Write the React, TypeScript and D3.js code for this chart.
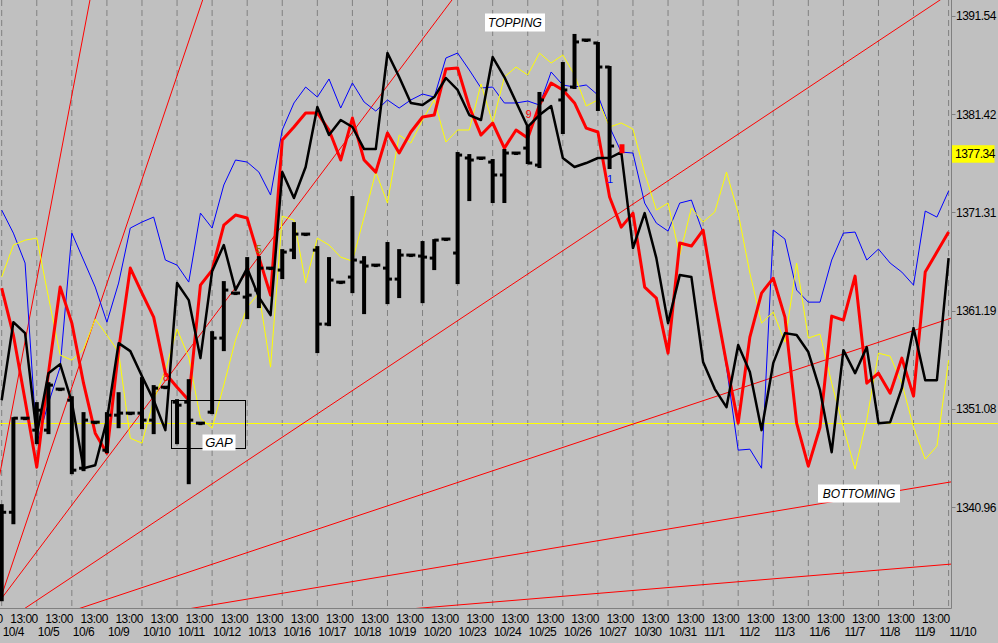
import React from "react";
import * as d3 from "d3";

// ---- data ----
const dates = ["10/4","10/5","10/6","10/9","10/10","10/11","10/12","10/13","10/16","10/17","10/18","10/19","10/20","10/23","10/24","10/25","10/26","10/27","10/30","10/31","11/1","11/2","11/3","11/6","11/7","11/8","11/9","11/10"];
const timeLabel = "13:00";
const yTicks = [1391.54, 1381.42, 1371.31, 1361.19, 1351.08, 1340.96];
const lastPrice = 1377.34;
const refLevel = 1349.59;

const blueLine = [
  1371.54,1369.17,1366.09,1347.56,1351.68,1355.38,1369.17,1366.40,1363.62,1360.01,
  1364.03,1369.69,1370.31,1370.82,1366.40,1365.88,1364.13,1371.23,1369.69,1374.12,
  1376.69,1376.48,1375.45,1373.09,1379.78,1382.56,1384.20,1383.17,1385.03,1382.04,
  1384.62,1382.66,1381.73,1382.87,1382.04,1382.87,1383.48,1383.17,1387.19,1387.70,
  1385.95,1384.10,1384.20,1382.56,1382.56,1382.76,1382.35,1385.75,1384.41,1384.20,
  1384.41,1383.38,1380.09,1377.51,1377.41,1372.26,1370.20,1369.38,1372.26,1372.57,
  1369.17,1362.48,1355.38,1346.84,1346.94,1344.98,1369.48,1368.56,1363.31,1362.07,
  1362.07,1366.40,1369.17,1369.28,1366.40,1367.53,1366.09,1365.16,1363.82,1371.44,
  1370.82,1373.50
];
const redLine = [
  1363.51,1358.68,1351.98,1345.09,1354.76,1363.62,1359.91,1353.73,1348.59,1346.53,
  1357.13,1365.57,1363.00,1360.53,1354.76,1353.32,1351.98,1363.82,1365.37,1370.00,
  1371.03,1370.72,1366.70,1362.79,1378.75,1380.09,1381.53,1381.53,1379.78,1376.69,
  1381.01,1376.69,1375.45,1379.47,1377.41,1379.57,1381.12,1381.32,1386.06,1386.16,
  1382.15,1379.26,1380.50,1377.92,1379.78,1378.95,1382.35,1384.62,1383.90,1382.56,
  1379.98,1379.57,1372.88,1369.79,1371.23,1363.62,1362.48,1356.82,1368.15,1367.84,
  1369.48,1362.28,1355.79,1349.62,1358.47,1363.00,1364.54,1360.53,1349.62,1345.19,
  1349.20,1360.63,1360.22,1364.75,1353.73,1354.76,1352.70,1356.31,1352.40,1365.16,
  1367.22,1369.28
];
const blackLine = [
  1351.98,1360.01,1358.88,1348.38,1354.76,1355.69,1351.78,1344.98,1345.29,1349.93,
  1357.85,1357.03,1354.45,1351.98,1348.90,1364.03,1362.28,1356.31,1365.26,1367.94,
  1363.31,1365.57,1362.59,1360.73,1375.45,1372.78,1375.97,1382.15,1379.26,1380.81,
  1380.09,1377.82,1377.82,1387.70,1385.23,1382.56,1382.35,1383.17,1385.13,1383.90,
  1381.32,1380.81,1387.29,1385.23,1382.66,1380.09,1381.32,1382.25,1376.90,1375.97,
  1376.38,1376.90,1376.90,1377.51,1367.63,1371.23,1366.60,1359.91,1364.85,1364.65,
  1355.90,1353.12,1351.26,1357.65,1354.87,1348.90,1355.79,1358.88,1358.68,1356.93,
  1353.01,1346.63,1357.13,1354.76,1357.44,1349.62,1349.72,1353.22,1359.40,1354.04,
  1354.04,1366.60
];
const yellowLine = [
  1364.65,1367.94,1368.45,1368.66,1362.59,1356.62,1356.10,1357.23,1360.32,1358.68,
  1356.93,1348.07,1347.56,1351.98,1355.07,1359.29,1356.41,1350.13,1349.10,1353.53,
  1358.16,1361.56,1363.00,1355.38,1370.92,1370.51,1364.03,1368.66,1367.94,1366.70,
  1366.29,1370.82,1375.45,1372.26,1379.26,1378.44,1380.81,1382.87,1378.54,1379.78,
  1379.78,1384.51,1380.50,1385.23,1386.26,1385.44,1387.70,1386.67,1387.50,1385.44,
  1382.25,1382.87,1380.09,1380.50,1379.88,1375.35,1371.54,1372.26,1366.91,1371.75,
  1370.31,1371.34,1375.45,1371.23,1365.06,1359.91,1361.04,1357.95,1366.09,1358.37,
  1358.78,1353.73,1349.20,1344.88,1349.93,1356.82,1356.51,1353.73,1349.20,1345.91,
  1347.25,1356.10
];

const barSlot = [
  0,1,2,3,4,5,6,7,8,9,10,11,12,13,14,15,16,17,18,19,20,21,22,23,24,25,26,27,28,29,
  30,31,32,33,34,35,36,37,38,39,40,41,42,43,44,45,46,48,49,50,51,52
];
const barOpen = [
  1335.51,1340.45,1350.13,1348.90,1348.90,1353.12,1351.98,1344.98,1349.72,1346.84,
  1350.44,1350.65,1350.65,1349.93,1353.32,1351.78,1351.78,1349.62,1350.75,1358.37,
  1363.00,1362.59,1363.31,1365.57,1365.37,1367.42,1369.07,1367.42,1359.81,1364.13,
  1364.65,1366.19,1365.88,1365.57,1364.44,1366.91,1366.81,1366.60,1368.56,1367.12,
  1376.90,1376.90,1376.48,1375.15,1377.41,1377.92,1376.17,
  1382.87,1384.20,1389.04,1388.73,1386.26
];
const barHigh = [
  1341.18,1350.13,1350.13,1351.68,1353.73,1353.12,1352.29,1350.65,1349.72,1350.65,
  1352.70,1350.65,1354.25,1353.43,1353.32,1351.98,1354.04,1349.62,1358.98,1364.13,
  1363.00,1366.60,1366.70,1365.57,1367.42,1370.20,1369.07,1367.73,1366.60,1364.13,
  1372.88,1366.70,1365.88,1368.15,1367.42,1366.91,1368.25,1368.45,1368.56,1377.41,
  1377.20,1376.90,1376.69,1377.72,1377.41,1380.09,1383.59,
  1386.67,1389.56,1389.04,1388.73,1386.26
];
const barLow = [
  1331.40,1339.32,1350.13,1347.56,1348.59,1353.12,1344.47,1344.78,1349.72,1346.63,
  1349.20,1350.65,1349.10,1348.59,1353.32,1347.56,1343.44,1349.62,1350.65,1357.13,
  1363.00,1360.42,1361.56,1365.57,1364.54,1366.60,1369.07,1356.93,1359.70,1364.13,
  1363.10,1360.94,1365.88,1361.97,1362.59,1366.91,1362.07,1365.47,1368.56,1364.03,
  1372.57,1376.90,1372.37,1372.37,1377.41,1376.38,1375.97,
  1379.47,1384.10,1389.04,1381.84,1375.87
];
const barClose = [
  1340.45,1350.13,1350.13,1350.95,1353.53,1353.12,1344.78,1349.93,1349.72,1350.44,
  1350.65,1350.65,1349.93,1353.22,1353.32,1351.47,1349.93,1349.62,1358.37,1363.31,
  1363.00,1362.79,1365.57,1365.57,1367.22,1369.07,1369.07,1359.81,1364.34,1364.13,
  1366.40,1365.78,1365.88,1364.44,1366.91,1366.91,1366.70,1368.45,1368.56,1377.20,
  1376.69,1376.90,1375.15,1377.41,1377.41,1376.38,1382.87,
  1383.90,1388.84,1389.04,1386.26,1378.13
];

// fan / trend lines: two anchor points each (slot, price)
const fanS1 = [-0.145, -0.145, 0, 1.99, 6.95, 16.79, 36.64];
const fanP1 = [1344.47, 1331.40, 1331.60, 1330.57, 1330.67, 1330.67, 1330.67];
const fanS2 = [7.55, 17.19, 38.52, 80.27, 80.95, 81.04, 81.04];
const fanP2 = [1393.16, 1393.16, 1393.16, 1393.16, 1360.32, 1343.54, 1335.10];

const markText = ["5", "9", "1", "8"];
const markSlot = [22.0, 45.06, 52.04, 14.05];
const markPrice = [1367.15, 1380.98, 1374.35, 1353.94];
const markColor = ["#808000", "#ff0000", "#0000ff", "#ff0000"];
const squareSlot = 53.06;
const squarePrice = 1377.85;

// ---- layout ----
const W = 998, H = 643;
const plotRight = 951.5, plotBottom = 608.5;
const FONT = "'Liberation Sans', Arial, sans-serif";

export default function App() {
  const x = d3.scaleLinear().domain([0, 81]).range([1.7, 948.6]);
  const y = d3.scaleLinear().domain([1340.96, 1391.54]).range([507.3, 15.7]);

  const line = d3.line<number>().x((_, i) => x(i)).y((d) => y(d));

  const gridSlots = d3.range(0, 82, 3);

  const fanPaths = fanS1.map((s1, i) => {
    const m = (fanP2[i] - fanP1[i]) / (fanS2[i] - s1);
    const a = -8, b = 84;
    return d3.line<[number, number]>().x((d) => x(d[0])).y((d) => y(d[1]))([
      [a, fanP1[i] + m * (a - s1)],
      [b, fanP1[i] + m * (b - s1)],
    ]) as string;
  });

  const txt = { fontFamily: FONT, fontSize: 12, letterSpacing: -0.5 } as const;

  return (
    <svg width={W} height={H} style={{ position: "absolute", left: 0, top: 0, display: "block" }}>
      <defs>
        <clipPath id="plot">
          <rect x={0} y={0} width={plotRight} height={plotBottom} />
        </clipPath>
      </defs>
      <rect x={0} y={0} width={W} height={H} fill="#c0c0c0" />

      {/* vertical dashed grid */}
      {gridSlots.map((s) => (
        <line key={s} x1={x(s)} x2={x(s)} y1={0} y2={plotBottom} stroke="#808080" strokeWidth={1} strokeDasharray="6,4" />
      ))}

      {/* reference level */}
      <line x1={0} x2={W} y1={Math.round(y(refLevel)) + 0.5} y2={Math.round(y(refLevel)) + 0.5} stroke="#ffff00" strokeWidth={1} />

      <g clipPath="url(#plot)">
        {fanPaths.map((p, i) => (
          <path key={i} d={p} fill="none" stroke="#ff0000" strokeWidth={1} />
        ))}
        <path d={line(blueLine) as string} fill="none" stroke="#0000ff" strokeWidth={1} />
        <path d={line(yellowLine) as string} fill="none" stroke="#ffff00" strokeWidth={1} />
        <path d={line(redLine) as string} fill="none" stroke="#ff0000" strokeWidth={3} strokeLinejoin="round" />
        <path d={line(blackLine) as string} fill="none" stroke="#000000" strokeWidth={2.5} strokeLinejoin="round" />

        {barSlot.map((s, i) => {
          const cx = x(s);
          return (
            <g key={i}>
              <rect x={cx - 2} y={y(barHigh[i]) - 1} width={4} height={Math.max(3, y(barLow[i]) - y(barHigh[i]) + 2)} fill="#000" />
              <rect x={cx - 4.5} y={y(barOpen[i]) - 1.5} width={4.5} height={3} fill="#000" />
              <rect x={cx} y={y(barClose[i]) - 1.5} width={4.5} height={3} fill="#000" />
            </g>
          );
        })}

        <rect x={x(squareSlot) - 2.5} y={y(squarePrice) - 4.5} width={5} height={9} fill="#ff0000" />
        {markText.map((t, i) => (
          <text key={i} x={x(markSlot[i])} y={y(markPrice[i])} textAnchor="middle" fill={markColor[i]} style={{ fontFamily: FONT, fontSize: 11 }}>
            {t}
          </text>
        ))}

        {/* GAP box */}
        <rect x={171.5} y={400.5} width={74} height={48} fill="none" stroke="#000" strokeWidth={1} />
      </g>

      {/* annotations */}
      <rect x={202.5} y={434.5} width={33} height={16} fill="#ffffff" />
      <text x={219} y={447} textAnchor="middle" style={{ fontFamily: FONT, fontSize: 13, fontStyle: "italic" }}>GAP</text>

      <rect x={485} y={13.5} width={60} height={18} fill="#ffffff" />
      <text x={515} y={27} textAnchor="middle" style={{ fontFamily: FONT, fontSize: 12, fontStyle: "italic" }}>TOPPING</text>

      <rect x={818} y={484.5} width={82} height={18} fill="#ffffff" />
      <text x={859} y={498} textAnchor="middle" style={{ fontFamily: FONT, fontSize: 12, fontStyle: "italic" }}>BOTTOMING</text>

      {/* axes */}
      <line x1={plotRight} x2={plotRight} y1={0} y2={plotBottom} stroke="#808080" strokeWidth={1} />
      <line x1={0} x2={plotRight} y1={plotBottom} y2={plotBottom} stroke="#808080" strokeWidth={1} />

      {yTicks.map((v) => (
        <g key={v}>
          <line x1={plotRight} x2={plotRight + 4} y1={Math.round(y(v)) + 0.5} y2={Math.round(y(v)) + 0.5} stroke="#808080" />
          <text x={956} y={y(v) + 4.5} style={txt} fill="#000">{v.toFixed(2)}</text>
        </g>
      ))}

      <rect x={952} y={y(lastPrice) - 8.5} width={42.5} height={17.5} fill="#ffff00" />
      <text x={955} y={y(lastPrice) + 4.5} style={txt} fill="#000">{lastPrice.toFixed(2)}</text>

      {gridSlots.map((s, k) => (
        <g key={s}>
          <text x={x(s) + 1} y={622.5} textAnchor="end" style={txt} fill="#000">{timeLabel}</text>
          <text x={x(s) + 1} y={636} textAnchor="start" style={txt} fill="#000">{dates[k]}</text>
        </g>
      ))}
    </svg>
  );
}
